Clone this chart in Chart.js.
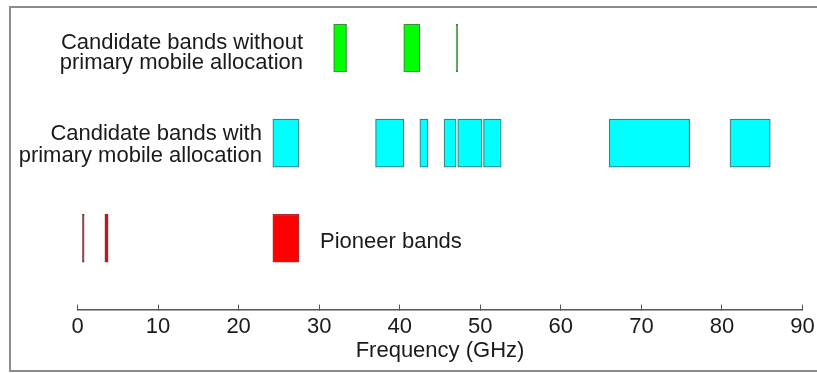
<!DOCTYPE html>
<html lang="en">
<head>
    <meta charset="UTF-8">
    <title>Frequency bands</title>
    <script src="https://cdn.jsdelivr.net/npm/chart.js"></script>
</head>
<style>
    body {
    margin: 0;
    background: white;
    overflow: hidden;
}

.frame {
    position: absolute;
    left: 9px;
    top: 6px;
    width: 830px;
    height: 362px;
    border: 2px solid #8c8c8c;
}

canvas {
    position: absolute;
    left: 0;
    top: 0;
}
</style>
<body>
    <div class="frame"></div>
    <canvas id="bandChart" width="817" height="373"></canvas>
    <script>
    // rows, top to bottom (row value on the hidden y scale)
    const rowValues = [3, 2, 1];
    const rowLabels = [
        ['Candidate bands without', 'primary mobile allocation'],
        ['Candidate bands with', 'primary mobile allocation'],
        ['Pioneer bands']
    ];

    // band edges in GHz
    const bandsWithout = [[31.8, 33.4], [40.5, 42.5], [47.0, 47.2]];
    const bandsWith = [[24.25, 27.5], [37.0, 40.5], [42.5, 43.5], [45.5, 47.0],
                       [47.2, 50.2], [50.4, 52.6], [66.0, 76.0], [81.0, 86.0]];
    const pioneerBands = [[0.62, 0.82], [3.4, 3.8], [24.25, 27.5]];

    const xTicks = [0, 10, 20, 30, 40, 50, 60, 70, 80, 90];

    function toPoints(bands, row) {
        return bands.map(b => ({ x: b, y: row }));
    }

    // text next to each row (anchor x in GHz)
    const rowText = {
        id: 'rowText',
        afterDraw(chart) {
            const ctx = chart.ctx;
            const xs = chart.scales.x, ys = chart.scales.y;
            ctx.save();
            ctx.font = '22px "Liberation Sans", Arial, sans-serif';
            ctx.fillStyle = '#1a1a1a';
            ctx.textBaseline = 'middle';

            ctx.textAlign = 'right';
            let y0 = ys.getPixelForValue(rowValues[0]);
            ctx.fillText(rowLabels[0][0], xs.getPixelForValue(28.0), y0 - 5);
            ctx.fillText(rowLabels[0][1], xs.getPixelForValue(28.0), y0 + 15);

            let y1 = ys.getPixelForValue(rowValues[1]);
            ctx.fillText(rowLabels[1][0], xs.getPixelForValue(22.9), y1 - 9);
            ctx.fillText(rowLabels[1][1], xs.getPixelForValue(22.9), y1 + 13);

            ctx.textAlign = 'left';
            let y2 = ys.getPixelForValue(rowValues[2]);
            ctx.fillText(rowLabels[2][0], xs.getPixelForValue(30.1), y2 + 4);
            ctx.restore();
        }
    };

    const ctx = document.getElementById('bandChart').getContext('2d');
    new Chart(ctx, {
        type: 'bar',
        data: {
            datasets: [{
                data: toPoints(bandsWithout, rowValues[0]),
                backgroundColor: ['#00ff00', '#00ff00', '#33a033'],
                borderColor: ['#3f8a3f', '#3f8a3f', '#2f8a2f']
            }, {
                data: toPoints(bandsWith, rowValues[1]),
                backgroundColor: '#00ffff',
                borderColor: '#3f7f7f'
            }, {
                data: toPoints(pioneerBands, rowValues[2]),
                backgroundColor: ['#6a1f1f', '#c01a1a', '#ff0000'],
                borderColor: ['#6a1f1f', '#a82020', '#a83030']
            }]
        },
        options: {
            responsive: false,
            animation: false,
            devicePixelRatio: 1,
            indexAxis: 'y',
            layout: {
                padding: { left: 77.5, right: 14.5, top: 10, bottom: 7 }
            },
            datasets: {
                bar: {
                    barThickness: 48,
                    borderWidth: 1.2,
                    borderSkipped: false,
                    grouped: false
                }
            },
            plugins: {
                legend: { display: false },
                tooltip: { enabled: false }
            },
            scales: {
                y: {
                    type: 'linear',
                    min: 0.25,
                    max: 3.4,
                    offset: false,
                    display: false
                },
                x: {
                    type: 'linear',
                    position: 'bottom',
                    min: xTicks[0],
                    max: xTicks[xTicks.length - 1],
                    afterBuildTicks: axis => {
                        axis.ticks = xTicks.map(v => ({ value: v }));
                    },
                    afterFit: axis => {
                        // let the last tick label hang into the right margin
                        axis.paddingRight = 0;
                        axis.paddingLeft = 0;
                    },
                    grid: {
                        drawOnChartArea: false,
                        drawTicks: true,
                        tickLength: -5,
                        color: '#555'
                    },
                    border: {
                        display: true,
                        color: '#555',
                        width: 1.5
                    },
                    ticks: {
                        padding: 9,
                        color: '#1a1a1a',
                        font: { family: '"Liberation Sans", Arial, sans-serif', size: 22 }
                    },
                    title: {
                        display: true,
                        text: 'Frequency (GHz)',
                        color: '#1a1a1a',
                        padding: { top: -9, bottom: 4 },
                        font: { family: '"Liberation Sans", Arial, sans-serif', size: 22, lineHeight: 1 }
                    }
                }
            }
        },
        plugins: [rowText]
    });
    </script>
</body>
</html>
